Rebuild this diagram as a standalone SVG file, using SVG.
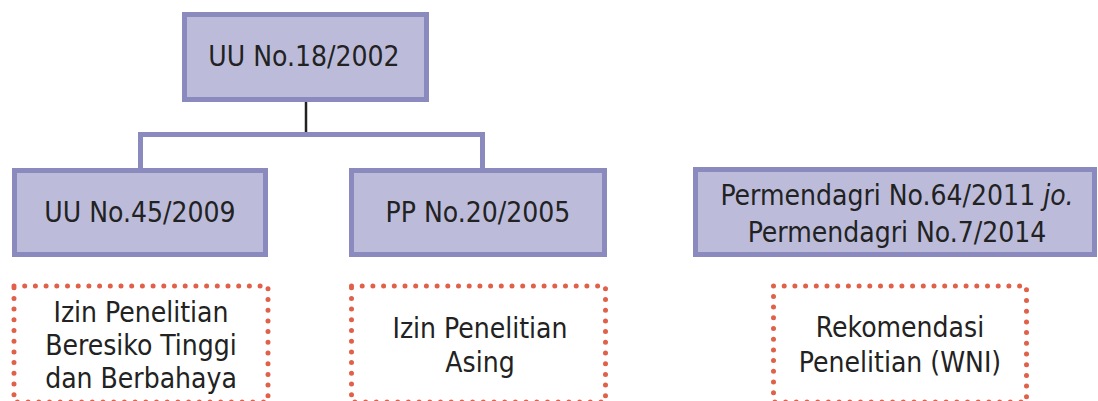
<svg xmlns="http://www.w3.org/2000/svg" width="1098" height="401" viewBox="0 0 1098 401">
<style>
.box{fill:#bcbcda;stroke:#8a8abf;stroke-width:5}
.dot{fill:none;stroke:#e0604a;stroke-width:5;stroke-linecap:round;stroke-dasharray:0 10.7}
.t{font-family:"DejaVu Sans Condensed","DejaVu Sans",sans-serif;font-stretch:condensed;font-size:28px;fill:#222;text-anchor:middle}
.conn{fill:none;stroke:#8a8abf;stroke-width:5}
</style>
<rect width="1098" height="401" fill="#fff"/>
<g id="connectors">
<line x1="306" y1="102" x2="306" y2="134" stroke="#222" stroke-width="2.5"/>
<path class="conn" d="M140.5 168 V134.5 H482.5 V168"/>
</g>
<g id="uu18">
<rect class="box" x="184.5" y="14.5" width="242" height="85"/>
<text class="t" x="304" y="66">UU No.18/2002</text>
</g>
<g id="uu45">
<rect class="box" x="14.5" y="170.5" width="251" height="84"/>
<text class="t" x="140" y="222">UU No.45/2009</text>
</g>
<g id="pp20">
<rect class="box" x="351.5" y="170.5" width="253" height="84"/>
<text class="t" x="478" y="222">PP No.20/2005</text>
</g>
<g id="permendagri">
<rect class="box" x="695.5" y="169.5" width="399" height="85"/>
<text class="t" x="897" y="205">Permendagri No.64/2011 <tspan font-style="italic">jo.</tspan></text>
<text class="t" x="897" y="242">Permendagri No.7/2014</text>
</g>
<g id="izin-beresiko">
<rect class="dot" x="14" y="286" width="254" height="116"/>
<text class="t" x="141" y="322">Izin Penelitian</text>
<text class="t" x="141" y="355">Beresiko Tinggi</text>
<text class="t" x="141" y="388">dan Berbahaya</text>
</g>
<g id="izin-asing">
<rect class="dot" x="351.5" y="286" width="254" height="116"/>
<text class="t" x="480" y="338">Izin Penelitian</text>
<text class="t" x="480" y="372">Asing</text>
</g>
<g id="rekomendasi">
<rect class="dot" x="773.5" y="286" width="253" height="116"/>
<text class="t" x="900" y="337">Rekomendasi</text>
<text class="t" x="900" y="372">Penelitian (WNI)</text>
</g>
</svg>
